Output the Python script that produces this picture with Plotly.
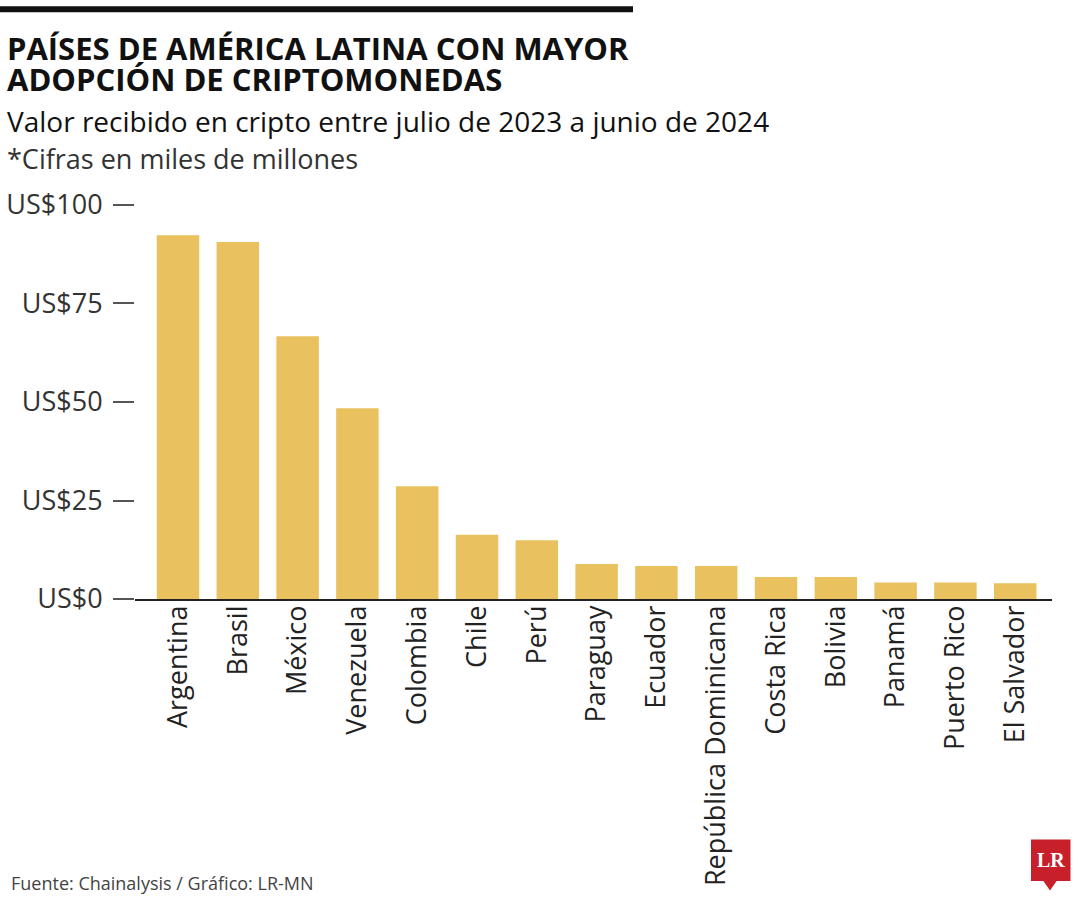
import plotly.graph_objects as go

paises = ["Argentina", "Brasil", "México", "Venezuela", "Colombia", "Chile", "Perú",
          "Paraguay", "Ecuador", "República Dominicana", "Costa Rica", "Bolivia",
          "Panamá", "Puerto Rico", "El Salvador"]
valores = [92.3, 90.6, 66.7, 48.4, 28.6, 16.3, 14.9, 8.9, 8.4, 8.4, 5.6, 5.6, 4.2, 4.2, 4.0]
y_tickvals = [0, 25, 50, 75, 100]
y_ticktext = ["US$0", "US$25", "US$50", "US$75", "US$100"]

W, H = 1080, 900
L, R = 135, 1052
T, B = 190, 599.3
PW, PH = R - L, B - T

def ax(px):
    return (px - L) / PW

def ay(py):
    return (B - py) / PH

BAR = "#E9C25F"
FONT = "Open Sans"

fig = go.Figure(go.Bar(
    x=list(range(len(paises))), y=valores,
    marker=dict(color=BAR, line=dict(width=0)),
    width=0.71, hoverinfo="skip",
))

fig.update_layout(
    width=W, height=H,
    margin=dict(l=L, r=W - R, t=T, b=H - B, pad=0, autoexpand=False),
    paper_bgcolor="white", plot_bgcolor="white",
    showlegend=False,
    font=dict(family=FONT, color="#222"),
)

fig.update_xaxes(
    range=[-0.719, 14.615], automargin=False,
    tickmode="array", tickvals=list(range(len(paises))), ticktext=paises,
    tickangle=-90, tickfont=dict(size=27, color="#222", family=FONT),
    showgrid=False, zeroline=False,
    showline=True, linecolor="#222", linewidth=1.5,
    ticks="", ticklabelstandoff=-6,
)

fig.update_yaxes(
    range=[0, (B - T) / 3.943], automargin=False,
    tickmode="array", tickvals=y_tickvals, ticktext=y_ticktext,
    tickfont=dict(size=27, color="#333", family=FONT),
    showgrid=False, zeroline=False, showline=False,
    ticks="outside", ticklen=21, tickcolor="#555", tickwidth=1.5,
    ticklabelstandoff=5,
)

anns = []
def text(x, y, s, size, color="#111", bold=False, family=FONT):
    anns.append(dict(
        xref="paper", yref="paper", x=ax(x), y=ay(y), xanchor="left", yanchor="middle",
        text=f"<b>{s}</b>" if bold else s, showarrow=False,
        font=dict(size=size, color=color, family=family),
    ))

text(5, 48, "PAÍSES DE AMÉRICA LATINA CON MAYOR", 31, bold=True)
text(5, 79, "ADOPCIÓN DE CRIPTOMONEDAS", 31, bold=True)
text(5, 121, "Valor recibido en cripto entre julio de 2023 a junio de 2024", 28, color="#111")
text(5, 158, "*Cifras en miles de millones", 27, color="#333")
text(9, 884, "Fuente: Chainalysis / Gráfico: LR-MN", 18, color="#444")

# LR logo text
anns.append(dict(
    xref="paper", yref="paper", x=ax(1050.5), y=ay(860), xanchor="center", yanchor="middle",
    text="<b>LR</b>", showarrow=False,
    font=dict(size=20, color="white", family="Liberation Serif"),
))

shapes = [
    # top black bar
    dict(type="rect", xref="paper", yref="paper", x0=ax(0), x1=ax(633), y0=ay(6), y1=ay(12),
         fillcolor="#111", line=dict(width=0), layer="above"),
    # logo box
    dict(type="rect", xref="paper", yref="paper", x0=ax(1031), x1=ax(1070.5), y0=ay(840), y1=ay(881.5),
         fillcolor="#C8202A", line=dict(width=0), layer="above"),
    dict(type="path", xref="paper", yref="paper",
         path=f"M {ax(1043)} {ay(881)} L {ax(1057)} {ay(881)} L {ax(1050)} {ay(891)} Z",
         fillcolor="#C8202A", line=dict(width=0), layer="above"),
]

fig.update_layout(annotations=anns, shapes=shapes)

post = (
    "document.documentElement.style.margin='0';"
    "document.body.style.margin='0';document.body.style.padding='0';"
    "document.body.style.overflow='hidden';"
    "var d=document.getElementById('{plot_id}');"
    "d.style.position='absolute';d.style.left='0px';d.style.top='0px';"
)
fig.write_html("out.html", config={"displayModeBar": False}, post_script=post)
